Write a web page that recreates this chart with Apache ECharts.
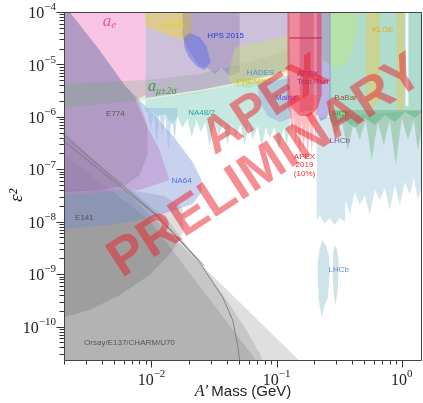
<!DOCTYPE html>
<html><head><meta charset="utf-8">
<script src="https://cdn.jsdelivr.net/npm/echarts@6/dist/echarts.min.js"></script>
<style>html,body{margin:0;padding:0;background:#fff}#c{width:423px;height:403px}</style>
</head><body><div id="c"></div>
<script>
// ---- axes ----
const massRange = [0.002, 1.45];
const eps2Range = [2.2e-11, 1e-4];
const xMajorTicks = [0.01, 0.1, 1];
const yMajorTicks = [1e-10, 1e-9, 1e-8, 1e-7, 1e-6, 1e-5, 1e-4];
const tickMantissas = [2, 3, 4, 5, 6, 7, 8, 9];

// ---- regions: [A' mass (GeV), eps^2] ----
const aE = [[1.9e-3,1.1e-4],[8.95e-3,1.1e-4],[8.95e-3,2.61e-6],[7.45e-3,2.09e-6],[9.12e-3,6.98e-7],[1.16e-2,2.32e-7],[1.39e-2,6.22e-8],[8.02e-3,4.01e-8],[1.9e-3,3.22e-8]];
const na64 = [[1.9e-3,1.1e-4],[2.15e-3,1.1e-4],[3.84e-3,1.88e-5],[6.08e-3,4.04e-6],[8.02e-3,2.09e-6],[1.06e-2,1.08e-6],[1.53e-2,3.94e-7],[2.13e-2,1.37e-7],[2.51e-2,6.22e-8],[2.51e-2,3.67e-8],[2.13e-2,2.17e-8],[1.53e-2,1.66e-8],[9.64e-3,1.17e-8],[4.61e-3,8.61e-9],[1.9e-3,7.22e-9]];
const e774 = [[1.9e-3,1.1e-4],[2.15e-3,1.1e-4],[3.84e-3,1.88e-5],[6.08e-3,4.04e-6],[8.02e-3,1.83e-6],[9.29e-3,6.98e-7],[9.29e-3,1.87e-7],[8.02e-3,7.75e-8],[6.08e-3,4.78e-8],[3.84e-3,4.01e-8],[1.9e-3,3.67e-8]];
const aMuBand = [[1.9e-3,4.22e-6],[8.95e-3,5.04e-6],[2.42e-2,6.56e-6],[6.08e-2,1.11e-5],[0.127,1.88e-5],[0.127,7.82e-6],[6.08e-2,4.61e-6],[2.42e-2,2.84e-6],[8.95e-3,2.09e-6],[1.9e-3,1.47e-6]];
const lavender = [[8.95e-3,1.1e-4],[0.127,1.1e-4],[0.127,7.82e-6],[6.08e-2,5.04e-6],[2.42e-2,3.25e-6],[8.95e-3,2.29e-6]];
const kloeLeft = [[8.95e-3,1.1e-4],[2.09e-2,1.1e-4],[2.09e-2,2.67e-5],[1.53e-2,3.19e-5],[1.16e-2,4.15e-5],[8.95e-3,5.41e-5]];
const hpsBand = [[1.77e-2,1.1e-4],[5.06e-2,1.1e-4],[5.06e-2,7.16e-6],[4.21e-2,6.01e-6],[3.63e-2,8.53e-6],[3.19e-2,6.56e-6],[2.81e-2,8.53e-6],[2.42e-2,9.31e-6],[2.13e-2,1.45e-5],[1.87e-2,2.35e-5],[1.77e-2,3.64e-5]];
const hps2015 = [[1.80e-2,3.19e-5],[2.01e-2,3.97e-5],[2.42e-2,3.33e-5],[2.75e-2,2.24e-5],[2.96e-2,1.11e-5],[2.65e-2,7.82e-6],[2.29e-2,9.31e-6],[2.01e-2,1.32e-5],[1.84e-2,2.06e-5]];
const phenix = [[4.61e-2,2.06e-5],[0.127,3.64e-5],[0.127,7.16e-6],[8.79e-2,5.04e-6],[6.08e-2,3.55e-6],[4.61e-2,3.87e-6],[4.06e-2,5.50e-6]];
const mainz = [[7.05e-2,4.22e-6],[0.127,5.50e-6],[0.132,9.48e-7],[0.106,7.96e-7],[8.47e-2,1.04e-6],[7.31e-2,1.91e-6]];
const na48 = [[8.95e-3,2.09e-6],[2.42e-2,2.97e-6],[0.127,6.28e-6],[0.127,6.11e-7],[0.120,2.77e-7],[0.114,6.38e-7],[0.104,2.32e-7],[9.64e-2,6.38e-7],[8.79e-2,3.94e-7],[8.17e-2,6.38e-7],[7.59e-2,2.54e-7],[7.05e-2,6.67e-7],[6.43e-2,3.61e-7],[5.97e-2,6.98e-7],[5.55e-2,2.77e-7],[5.15e-2,6.98e-7],[4.70e-2,4.31e-7],[4.37e-2,7.30e-7],[4.06e-2,2.90e-7],[3.77e-2,7.62e-7],[3.44e-2,4.50e-7],[3.19e-2,7.96e-7],[2.91e-2,2.65e-7],[2.70e-2,7.96e-7],[2.47e-2,5.13e-7],[2.29e-2,8.69e-7],[2.09e-2,4.11e-7],[1.94e-2,9.08e-7],[1.77e-2,6.11e-7],[1.61e-2,9.91e-7],[1.45e-2,6.98e-7],[1.29e-2,1.13e-6],[1.12e-2,1.04e-6],[9.64e-3,1.35e-6],[8.95e-3,1.47e-6]];
const blueSpikes = [[8.95e-3,1.47e-6],[1.61e-2,1.47e-6],[1.61e-2,1.08e-6],[1.53e-2,3.61e-7],[1.45e-2,1.04e-6],[1.37e-2,2.32e-7],[1.29e-2,1.08e-6],[1.22e-2,4.50e-7],[1.16e-2,1.13e-6],[1.10e-2,2.90e-7],[1.04e-2,1.18e-6],[9.82e-3,5.60e-7],[9.29e-3,1.24e-6],[8.95e-3,1.24e-6]];
const apexTestRun = [[0.122,1.1e-4],[0.229,1.1e-4],[0.229,2.61e-6],[0.213,1.47e-6],[0.184,1.04e-6],[0.153,1.04e-6],[0.132,1.47e-6],[0.122,2.61e-6]];
const apexCore = [[0.153,1.1e-4],[0.198,1.1e-4],[0.198,1.35e-6],[0.153,1.24e-6]];
const apex2019 = [[0.122,2.61e-6],[0.213,2.61e-6],[0.213,2.09e-6],[0.205,3.61e-7],[0.198,9.48e-7],[0.191,1.87e-7],[0.184,7.96e-7],[0.177,1.50e-7],[0.171,6.98e-7],[0.164,2.32e-7],[0.158,8.69e-7],[0.153,1.64e-7],[0.147,7.96e-7],[0.142,2.90e-7],[0.137,9.48e-7],[0.132,4.50e-7],[0.127,1.24e-6],[0.122,1.68e-6]];
const purpleColumn = [[0.209,1.1e-4],[0.270,1.1e-4],[0.270,1.35e-6],[0.251,9.48e-7],[0.225,8.32e-7],[0.209,1.13e-6]];
const lightGreen = [[0.229,1.1e-4],[0.461,1.1e-4],[0.429,3.64e-5],[0.398,1.51e-5],[0.350,9.75e-6],[0.281,8.92e-6],[0.233,1.21e-5]];
const lhcbBlue = [[0.209,9.48e-7],[1.5,1.35e-6],[1.5,6.22e-8],[1.34,2.58e-8],[1.25,6.79e-8],[1.16,3.22e-8],[1.06,5.70e-8],[0.964,2.07e-8],[0.879,4.99e-8],[0.802,1.66e-8],[0.731,4.38e-8],[0.667,2.58e-8],[0.608,4.01e-8],[0.555,1.34e-8],[0.506,3.22e-8],[0.461,2.07e-8],[0.421,3.67e-8],[0.384,1.34e-8],[0.356,2.58e-8],[0.350,9.82e-9],[0.319,1.17e-8],[0.291,8.61e-9],[0.265,1.17e-8],[0.242,8.99e-9],[0.221,1.34e-8],[0.209,1.07e-8]];
const lhcbIslandA = [[0.213,1.69e-9],[0.221,3.13e-9],[0.233,4.46e-9],[0.247,3.57e-9],[0.261,2.31e-9],[0.265,1.09e-9],[0.256,3.48e-10],[0.242,2.56e-10],[0.229,1.45e-10],[0.217,3.19e-10],[0.213,7.68e-10]];
const lhcbIslandB = [[0.281,2.31e-9],[0.291,3.57e-9],[0.302,3.13e-9],[0.313,1.85e-9],[0.308,4.95e-10],[0.296,2.56e-10],[0.286,3.97e-10],[0.281,9.57e-10]];
const babar = [[0.265,1.1e-4],[1.5,1.1e-4],[1.5,1.35e-6],[1.27,9.48e-7],[1.06,1.24e-6],[0.879,7.96e-7],[0.731,1.08e-6],[0.608,6.98e-7],[0.506,9.48e-7],[0.421,6.11e-7],[0.350,8.69e-7],[0.291,6.67e-7],[0.265,8.69e-7]];
const babarGap = [[1.07,1.1e-4],[1.13,1.1e-4],[1.13,1.6e-6],[1.07,1.6e-6]];
const lhcbGreen = [[0.265,1.35e-6],[1.5,1.35e-6],[1.5,9.48e-7],[1.34,2.32e-7],[1.25,8.69e-7],[1.12,3.61e-7],[1.0,9.48e-7],[0.895,1.20e-7],[0.802,8.69e-7],[0.718,2.90e-7],[0.643,7.96e-7],[0.575,1.50e-7],[0.515,8.69e-7],[0.461,3.61e-7],[0.413,7.96e-7],[0.370,2.32e-7],[0.331,8.69e-7],[0.296,4.50e-7],[0.265,9.48e-7]];
const kloeRight1 = [[0.515,1.1e-4],[0.667,1.1e-4],[0.667,2.09e-6],[0.565,1.47e-6],[0.515,2.09e-6]];
const kloeRight2 = [[0.912,1.1e-4],[1.04,1.1e-4],[1.04,1.35e-6],[0.912,1.35e-6]];
const dumpOuter = [[1.9e-3,6.11e-7],[0.153,2.2e-11],[1.9e-3,2.2e-11]];
const dumpCurve = [[1.9e-3,4.50e-7],[5.55e-3,6.22e-8],[1.39e-2,9.82e-9],[2.42e-2,1.69e-9],[3.98e-2,3.19e-10],[5.75e-2,8.53e-11],[7.31e-2,3.10e-11],[7.73e-2,2.2e-11],[1.9e-3,2.2e-11]];
const dumpInner = [[1.9e-3,2.13e-7],[9.64e-3,1.07e-8],[6.92e-2,2.2e-11],[1.9e-3,2.2e-11]];
const e137 = [[1.9e-3,4.01e-8],[6.67e-3,4.01e-8],[1.27e-2,3.08e-8],[1.77e-2,1.82e-8],[1.80e-2,6.34e-9],[1.45e-2,2.63e-9],[9.64e-3,9.57e-10],[5.55e-3,3.97e-10],[3.19e-3,2.06e-10],[1.9e-3,1.45e-10]];
const dumpLine1 = [[1.9e-3,4.91e-7],[1.10e-2,1.34e-8],[2.42e-2,1.69e-9],[3.70e-2,3.64e-10],[4.45e-2,1.33e-10],[4.88e-2,4.41e-11],[5.06e-2,2.2e-11]];
const dumpLine2 = [[1.9e-3,3.77e-7],[1.16e-2,1.17e-8],[2.65e-2,1.42e-9]];
const apexLine = [[0.127,3.19e-5],[0.229,3.19e-5]];

// ---- labels ----
const regionLabels = [
  {key:'aE', text:'{a|a}{s|e}', m:4.61e-3, e:6.44e-5},
  {key:'kloe', text:'KLOE', m:1.53e-2, e:5.65e-5},
  {key:'hps', text:'HPS 2015', m:3.91e-2, e:3.48e-5},
  {key:'hades', text:'HADES', m:7.45e-2, e:6.86e-6},
  {key:'phenix', text:'PHENIX', m:6.31e-2, e:4.61e-6},
  {key:'apexTR', text:'APEX', m:0.177, e:6.56e-6},
  {key:'apexTR', text:'Test Run', m:0.194, e:4.61e-6},
  {key:'mainz', text:'Mainz', m:0.118, e:2.29e-6},
  {key:'babar', text:'BaBar', m:0.356, e:2.29e-6},
  {key:'lhcbG', text:'LHCb', m:0.313, e:1.13e-6},
  {key:'lhcbP', text:'LHCb', m:0.319, e:3.45e-7},
  {key:'apex19', text:'APEX\n2019\n(10%)', m:0.167, e:1.20e-7},
  {key:'kloeR', text:'KLOE', m:0.705, e:4.53e-5},
  {key:'aMu', text:'{a|a}{s|μ±2σ}', m:1.22e-2, e:3.71e-6},
  {key:'dark', text:'E774', m:5.15e-3, e:1.13e-6},
  {key:'na48', text:'NA48/2', m:2.51e-2, e:1.18e-6},
  {key:'na64', text:'NA64', m:1.74e-2, e:5.96e-8},
  {key:'dark', text:'E141', m:2.91e-3, e:1.17e-8},
  {key:'dark', text:'Orsay/E137/CHARM/U70', m:6.67e-3, e:4.82e-11},
  {key:'lhcbB', text:'LHCb', m:0.313, e:1.19e-9}
];

// ---- styles (kept apart from the data) ----
const SANS = '"Liberation Sans", Arial, sans-serif';
const SERIF = '"Liberation Serif", "Times New Roman", serif';
const regionList = [
  {pts:dumpOuter, fill:'rgba(40,40,40,0.15)'},
  {pts:dumpCurve, fill:'rgba(40,40,40,0.13)'},
  {pts:dumpInner, fill:'rgba(40,40,40,0.12)'},
  {pts:e137, fill:'rgba(40,40,50,0.15)'},
  {pts:aE, fill:'rgba(240,140,200,0.5)'},
  {pts:na64, fill:'rgba(110,135,210,0.38)'},
  {pts:e774, fill:'rgba(90,70,80,0.17)'},
  {pts:aMuBand, fill:'rgba(90,170,90,0.2)'},
  {pts:lavender, fill:'rgba(145,115,175,0.45)'},
  {pts:kloeLeft, fill:'rgba(240,215,50,0.45)'},
  {pts:hpsBand, fill:'rgba(90,70,130,0.22)'},
  {pts:hps2015, fill:'rgba(70,90,245,0.4)'},
  {pts:phenix, fill:'rgba(200,225,110,0.4)'},
  {pts:mainz, fill:'rgba(150,110,220,0.35)'},
  {pts:na48, fill:'rgba(110,200,180,0.4)'},
  {pts:blueSpikes, fill:'rgba(140,185,225,0.45)'},
  {pts:lhcbBlue, fill:'rgba(160,200,215,0.45)'},
  {pts:lhcbIslandA, fill:'rgba(160,200,215,0.5)'},
  {pts:lhcbIslandB, fill:'rgba(160,200,215,0.5)'},
  {pts:babar, fill:'rgba(95,185,155,0.5)'},
  {pts:babarGap, fill:'rgba(255,255,255,0.9)'},
  {pts:lhcbGreen, fill:'rgba(70,160,80,0.3)'},
  {pts:lightGreen, fill:'rgba(190,230,130,0.45)'},
  {pts:kloeRight1, fill:'rgba(240,195,70,0.42)'},
  {pts:kloeRight2, fill:'rgba(240,195,70,0.42)'},
  {pts:purpleColumn, fill:'rgba(100,90,190,0.45)'},
  {pts:apexTestRun, fill:'rgba(225,40,75,0.55)'},
  {pts:apexCore, fill:'rgba(160,20,70,0.25)'},
  {pts:apex2019, fill:'rgba(255,70,80,0.35)'}
];
const labelStyles = {
  aE:{fill:'#f04fa8', font:'italic 17px ' + SERIF, rich:{a:{fontSize:17, fontStyle:'italic', fontFamily:'Liberation Serif', fill:'#f04fa8', lineHeight:18, verticalAlign:'middle'}, s:{fontSize:11, fontStyle:'italic', fontFamily:'Liberation Serif', fill:'#f04fa8', lineHeight:11, verticalAlign:'bottom'}}},
  aMu:{fill:'#3d9b3d', font:'italic 15px ' + SERIF, rich:{a:{fontSize:16, fontStyle:'italic', fontFamily:'Liberation Serif', fill:'#3d9b3d', lineHeight:18, verticalAlign:'middle'}, s:{fontSize:10, fontStyle:'italic', fontFamily:'Liberation Serif', fill:'#3d9b3d', lineHeight:10, verticalAlign:'bottom'}}},
  kloe:{fill:'#e3d11a'}, hps:{fill:'#2437e0'}, hades:{fill:'#4d8fe6'}, phenix:{fill:'#e0b517'},
  apexTR:{fill:'#a02c8c'}, mainz:{fill:'#7a3cc0'}, babar:{fill:'#a0503c'}, lhcbG:{fill:'#2ea02e'},
  lhcbP:{fill:'#6a5aa0'}, apex19:{fill:'#ff2a2a'}, kloeR:{fill:'#e8a52a'}, dark:{fill:'#555555'},
  na48:{fill:'#27a39c'}, na64:{fill:'#4a6ee0'}, lhcbB:{fill:'#5a8ac8'}
};

function expLabel(v) {
  const lg = Math.log10(v), k = Math.round(lg);
  if (Math.abs(lg - k) > 1e-6) return '';
  return '{b|10}{s|' + (k < 0 ? '\u2212' + (-k) : String(k)) + '}';
}
const tickRich = {
  b:{fontFamily:'Liberation Serif', fontSize:16, color:'#222', lineHeight:20, verticalAlign:'bottom'},
  s:{fontFamily:'Liberation Serif', fontSize:11, color:'#222', lineHeight:11, verticalAlign:'top'}
};

const chart = echarts.init(document.getElementById('c'));
chart.setOption({
  animation:false,
  backgroundColor:'#fff',
  grid:{left:64, right:1, top:12, bottom:42, show:false, containLabel:false, outerBoundsMode:'none'},
  xAxis:{type:'log', logBase:10, min:massRange[0], max:massRange[1],
    axisLine:{show:false}, axisTick:{show:false}, splitLine:{show:false},
    axisLabel:{formatter:expLabel, margin:8, rich:tickRich},
    name:'{i|A\u2032} {t|Mass (GeV)}', nameLocation:'middle', nameGap:23, nameMoveOverlap:false,
    nameTextStyle:{rich:{i:{fontFamily:'Liberation Serif', fontStyle:'italic', fontSize:16, color:'#222'}, t:{fontFamily:'Liberation Sans', fontSize:15, color:'#222'}}}},
  yAxis:{type:'log', logBase:10, min:eps2Range[0], max:eps2Range[1],
    axisLine:{show:false}, axisTick:{show:false}, splitLine:{show:false},
    axisLabel:{formatter:expLabel, margin:8, rich:tickRich},
    name:'\u03b5\u00b2', nameLocation:'middle', nameGap:38, nameRotate:90, nameMoveOverlap:false,
    nameTextStyle:{fontFamily:'Liberation Serif', fontStyle:'italic', fontSize:19, color:'#222', padding:[0,0,0,-18]}},
  series:[
    {type:'custom', name:'regions', coordinateSystem:'cartesian2d', clip:true, silent:true, z:2,
      data: regionList.map((r, i) => [r.pts[0][0], r.pts[0][1], i]),
      renderItem:(params, api) => {
        const r = regionList[params.dataIndex];
        return {type:'polygon', shape:{points:r.pts.map(p => api.coord(p))}, style:{fill:r.fill}};
      }},
    {type:'line', name:'dump line 1', data:dumpLine1, showSymbol:false, silent:true, z:3, lineStyle:{color:'#7a7a7a', width:0.9}},
    {type:'line', name:'dump line 2', data:dumpLine2, showSymbol:false, silent:true, z:3, lineStyle:{color:'#7a7a7a', width:0.9}},
    {type:'line', name:'apex line', data:apexLine, showSymbol:false, silent:true, z:3, lineStyle:{color:'#c02040', width:1}},
    {type:'custom', name:'labels', coordinateSystem:'cartesian2d', silent:true, z:4,
      data: regionLabels.map((l, i) => [l.m, l.e, i]),
      renderItem:(params, api) => {
        const l = regionLabels[params.dataIndex];
        const st = labelStyles[l.key];
        const p = api.coord([l.m, l.e]);
        return {type:'text', x:p[0], y:p[1], style:{text:l.text, fill:st.fill, font:st.font || ('8px ' + SANS),
          align:'center', verticalAlign:'middle', textAlign:'center', textVerticalAlign:'middle', lineHeight:8.5, rich:st.rich}};
      }},
    {type:'custom', name:'ticks', coordinateSystem:'cartesian2d', silent:true, z:6,
      data:[[massRange[0], eps2Range[0]]],
      renderItem:(params, api) => {
        const ch = [];
        const lo = api.coord([massRange[0], eps2Range[0]]);
        const hi = api.coord([massRange[1], eps2Range[1]]);
        const x0 = Math.round(lo[0]) + 0.5, y0 = Math.round(lo[1]) - 0.5;
        const x1 = Math.round(hi[0]) - 0.5, y1 = Math.round(hi[1]) + 0.5;
        const st = {stroke:'#333', lineWidth:1};
        const xt = (v, len) => { const p = api.coord([v, eps2Range[0]]); const x = Math.round(p[0]) + 0.5; ch.push({type:'line', shape:{x1:x, y1:y0, x2:x, y2:y0 + len}, style:st}); };
        const yt = (v, len) => { const p = api.coord([massRange[0], v]); const y = Math.round(p[1]) + 0.5; ch.push({type:'line', shape:{x1:x0, y1:y, x2:x0 - len, y2:y}, style:st}); };
        xMajorTicks.forEach(v => xt(v, 7));
        [0.001, 0.01, 0.1].forEach(d => tickMantissas.forEach(k => { const v = d * k; if (v >= massRange[0] - 1e-9 && v <= massRange[1]) xt(v, 4); }));
        yMajorTicks.forEach(v => yt(v, 8));
        yMajorTicks.concat([1e-11]).forEach(d => tickMantissas.forEach(k => { const v = d * k; if (v >= eps2Range[0] && v <= eps2Range[1]) yt(v, 5); }));
        ch.push({type:'rect', shape:{x:x0, y:y1, width:x1 - x0, height:y0 - y1}, style:{fill:'none', stroke:'#444', lineWidth:1}});
        return {type:'group', children:ch};
      }}
  ],
  graphic:[
    {type:'text', x:265, y:106, rotation:33 * Math.PI / 180, z:100, silent:true,
      style:{text:'APEX', font:'bold 51px ' + SANS, fill:'rgba(235,30,40,0.5)', align:'center', verticalAlign:'middle', textAlign:'center', textVerticalAlign:'middle'}},
    {type:'text', x:266, y:167, rotation:33 * Math.PI / 180, z:100, silent:true,
      style:{text:'PRELIMINARY', font:'bold 53px ' + SANS, fill:'rgba(235,30,40,0.5)', align:'center', verticalAlign:'middle', textAlign:'center', textVerticalAlign:'middle'}}
  ]
});
</script>
</body></html>
